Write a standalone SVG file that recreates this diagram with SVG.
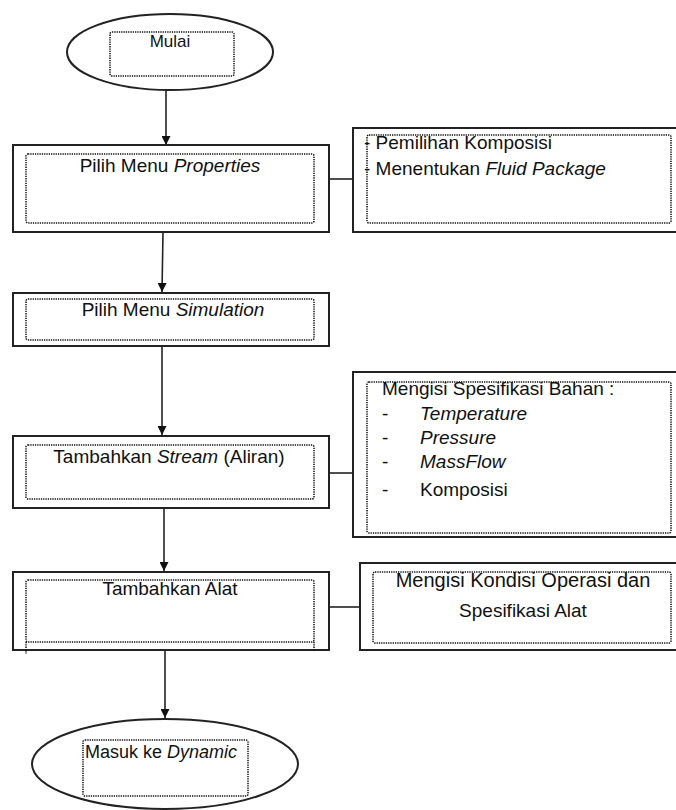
<svg xmlns="http://www.w3.org/2000/svg" width="676" height="810" viewBox="0 0 676 810">
<defs>
<style>
.box{fill:#fff;stroke:#222;stroke-width:2}
.dot{fill:none;stroke:#111;stroke-width:1.5;stroke-dasharray:1.3 1}
.ln{fill:none;stroke:#222;stroke-width:1.6}
text{font-family:"Liberation Sans",Arial,sans-serif;font-size:19px;fill:#111}
.c{text-anchor:middle}
.i{font-style:italic}
</style>
<marker id="ah" viewBox="0 0 10 10" refX="10" refY="5" markerWidth="9" markerHeight="9" markerUnits="userSpaceOnUse" orient="auto">
<path d="M0,0 L10,5 L0,10 z" fill="#111"/>
</marker>
</defs>
<rect width="676" height="810" fill="#fff"/>
<g id="connectors">
<line class="ln" x1="166" y1="90" x2="166" y2="145" marker-end="url(#ah)"/>
<line class="ln" x1="163" y1="232" x2="162" y2="292" marker-end="url(#ah)"/>
<line class="ln" x1="162" y1="346" x2="162" y2="435" marker-end="url(#ah)"/>
<line class="ln" x1="164" y1="508" x2="164" y2="571" marker-end="url(#ah)"/>
<line class="ln" x1="165" y1="650" x2="165" y2="718" marker-end="url(#ah)"/>
<line class="ln" x1="329" y1="179" x2="353" y2="179"/>
<line class="ln" x1="329" y1="473" x2="353" y2="473"/>
<line class="ln" x1="329" y1="607" x2="360" y2="607"/>
</g>
<g id="mulai">
<ellipse class="box" cx="170" cy="52" rx="103" ry="38"/>
<rect class="dot" x="110" y="32" width="124" height="44" rx="2"/>
<text class="c" x="170" y="47" style="font-size:17px">Mulai</text>
</g>
<g id="properties">
<rect class="box" x="13" y="145" width="316" height="87"/>
<rect class="dot" x="26" y="154" width="288" height="69" rx="2"/>
<text class="c" x="170" y="172">Pilih Menu <tspan class="i">Properties</tspan></text>
</g>
<g id="komposisi">
<rect class="box" x="353" y="128" width="330" height="104"/>
<rect class="dot" x="367" y="135" width="304" height="88" rx="2"/>
<text x="364" y="149">- Pemilihan Komposisi</text>
<text x="364" y="175">- Menentukan <tspan class="i">Fluid Package</tspan></text>
</g>
<g id="simulation">
<rect class="box" x="13" y="293" width="316" height="53"/>
<rect class="dot" x="26" y="299" width="288" height="41" rx="2"/>
<text class="c" x="173" y="316">Pilih Menu <tspan class="i">Simulation</tspan></text>
</g>
<g id="stream">
<rect class="box" x="13" y="436" width="316" height="72"/>
<rect class="dot" x="26" y="445" width="288" height="54" rx="2"/>
<text class="c" x="169" y="463">Tambahkan <tspan class="i">Stream</tspan> (Aliran)</text>
</g>
<g id="spesifikasi">
<rect class="box" x="353" y="372" width="330" height="165"/>
<rect class="dot" x="367" y="382" width="304" height="151" rx="2"/>
<text x="382" y="395">Mengisi Spesifikasi Bahan :</text>
<text x="382" y="420">-</text><text class="i" x="420" y="420">Temperature</text>
<text x="382" y="444">-</text><text class="i" x="420" y="444">Pressure</text>
<text x="382" y="468">-</text><text class="i" x="420" y="468">MassFlow</text>
<text x="382" y="496">-</text><text x="420" y="496">Komposisi</text>
</g>
<g id="alat">
<rect class="box" x="13" y="572" width="316" height="78"/>
<rect class="dot" x="26" y="580" width="288" height="62" rx="2"/>
<line class="dot" x1="26" y1="642" x2="26" y2="654"/>
<line class="dot" x1="314" y1="642" x2="314" y2="651"/>
<text class="c" x="170" y="595">Tambahkan Alat</text>
</g>
<g id="kondisi">
<rect class="box" x="360" y="563" width="323" height="87"/>
<rect class="dot" x="373" y="572" width="298" height="71" rx="2"/>
<text class="c" x="523" y="587" style="font-size:20px">Mengisi Kondisi Operasi dan</text>
<text class="c" x="523" y="617">Spesifikasi Alat</text>
</g>
<g id="dynamic">
<ellipse class="box" cx="165" cy="764" rx="133" ry="45"/>
<rect class="dot" x="83" y="740" width="165" height="56" rx="2"/>
<text x="85" y="758" style="font-size:18px">Masuk ke <tspan class="i">Dynamic</tspan></text>
</g>
</svg>
